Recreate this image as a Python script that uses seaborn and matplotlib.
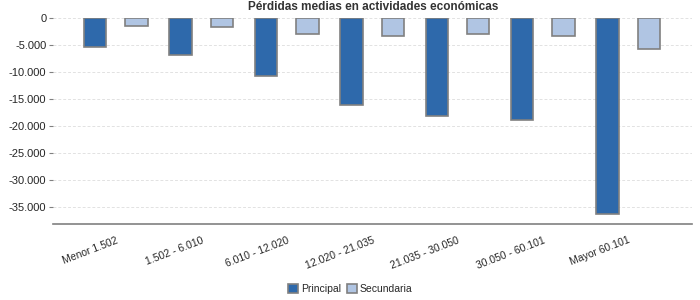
import pandas as pd
import seaborn as sns
import matplotlib.pyplot as plt
from matplotlib.ticker import FuncFormatter, MultipleLocator

# Chart data
categorias = ['Menor 1.502', '1.502 - 6.010', '6.010 - 12.020', '12.020 - 21.035',
              '21.035 - 30.050', '30.050 - 60.101', 'Mayor 60.101']
principal = [-5400, -6900, -10800, -16100, -18200, -18900, -36300]
secundaria = [-1500, -1700, -3000, -3400, -3000, -3400, -5800]
series = ['Principal', 'Secundaria']
colores = ['#2e69ab', '#b0c5e3']

df = pd.DataFrame({
    'Tramo': categorias * 2,
    'Valor': principal + secundaria,
    'Serie': [series[0]] * len(categorias) + [series[1]] * len(categorias),
})

sns.set_style('white')
plt.rcParams['font.family'] = ['Liberation Sans', 'DejaVu Sans']

fig = plt.figure(figsize=(7, 3), dpi=100)
ax = fig.add_axes([0.076, 0.253, 0.913, 0.687])

sns.barplot(data=df, x='Tramo', y='Valor', hue='Serie', palette=colores,
            width=0.97, gap=0.46, edgecolor='#808080', linewidth=1.2,
            saturation=1, ax=ax, legend=True)

# Axes, grid and ticks
ax.set_ylim(-38150, 0)
ax.set_xlim(-0.735, 6.75)
ax.yaxis.set_major_locator(MultipleLocator(5000))
ax.yaxis.set_major_formatter(FuncFormatter(lambda v, p: f'{int(v):,}'.replace(',', '.')))
ax.grid(axis='y', linestyle=(0, (3, 2)), color='#e2e2e2', linewidth=0.7)
ax.set_axisbelow(True)
for s in ['left', 'top', 'right']:
    ax.spines[s].set_visible(False)
ax.spines['bottom'].set_color('#808080')
ax.spines['bottom'].set_linewidth(1.2)
ax.tick_params(axis='y', left=True, length=3, color='#808080', labelsize=8, pad=2)
ax.tick_params(axis='x', bottom=False, labelsize=7.5, pad=4.5)
plt.setp(ax.get_xticklabels(), rotation=21, ha='right', rotation_mode='anchor')
ax.set_xlabel('')
ax.set_ylabel('')

ax.set_title('Pérdidas medias en actividades económicas', fontsize=8.5,
             fontweight='bold', color='#333333', pad=6)

# Legend below the chart
ax.legend(loc='center', bbox_to_anchor=(0.465, -0.315), ncol=2, frameon=False,
          fontsize=7.5, handlelength=0.9, handleheight=0.9, handletextpad=0.3,
          columnspacing=0.6)

plt.savefig('out.png', dpi=100)
